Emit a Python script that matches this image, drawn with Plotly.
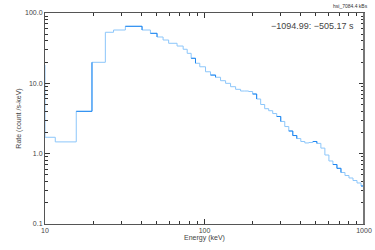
import plotly.graph_objects as go

# energy bin edges (keV) and count rates (counts / s-keV), one rate per bin
edges = [8.5, 10, 11.6, 15.7, 19.7, 23.9, 26.9, 31.9, 40.6, 45.8, 50.4, 55.0, 59.6,
         67.3, 73.5, 77.9, 82.5, 87.8, 93.4, 101.5, 109.1, 117.3, 126.1, 135.6, 145.7,
         156.7, 168.4, 178.5, 189.1, 200.4, 212.3, 225.0, 238.4, 252.6, 267.7, 283.7,
         300.6, 318.6, 337.6, 357.7, 379.0, 401.6, 425.6, 451.0, 477.9, 506.4, 536.6,
         568.6, 602.6, 638.5, 676.6, 717.0, 759.8, 805.1, 853.1, 903.9, 957.7, 1000]
rates = [18.2, 1.71, 1.47, 4.0, 19.9, 53.2, 57.3, 64.7, 57.3, 51.4, 45.6, 41.3,
         37.1, 33.9, 30.5, 26.7, 22.7, 19.3, 17.2, 14.6, 13.1, 12.2, 10.9, 10.0, 8.96, 8.22,
         7.78, 7.78, 7.65, 7.05, 5.99, 5.0, 4.36, 4.08, 3.72, 3.38, 2.87, 2.43, 2.10, 1.81,
         1.64, 1.49, 1.42, 1.44, 1.49, 1.40, 1.20, 0.957, 0.787, 0.701, 0.619, 0.540,
         0.489, 0.451, 0.415, 0.383, 0.347]

title_text = "hsi_7084.4 kBs"
time_text = "\u22121094.99: \u2212505.17 s"

# bins where the darker overplotted trace shows through
dark_bins = [3, 7, 9, 16, 20, 29, 35, 38, 39, 44, 49, 50, 56]

fig = go.Figure()

fig.add_trace(go.Scatter(x=edges, y=rates + [rates[-1]], mode="lines",
                         line=dict(color="#8cc6fa", width=1, shape="hv"),
                         showlegend=False, hoverinfo="skip"))

dx, dy = [], []
for i in dark_bins:
    nxt = rates[i + 1] if i + 1 < len(rates) else rates[i]
    dx += [edges[i], edges[i + 1], edges[i + 1], None]
    dy += [rates[i], rates[i], nxt, None]
fig.add_trace(go.Scatter(x=dx, y=dy, mode="lines",
                         line=dict(color="#1e86f0", width=1),
                         showlegend=False, hoverinfo="skip"))

axis_font = dict(family="Liberation Sans, Arial", size=7, color="#444")

fig.update_xaxes(type="log", range=[1, 3], automargin=False,
                 tickvals=[10, 100, 1000], ticktext=["10", "100", "1000"],
                 ticks="inside", ticklen=5, tickcolor="#333",
                 minor=dict(ticks="inside", ticklen=3, tickcolor="#333",
                            tickvals=[20, 30, 40, 50, 60, 70, 80, 90,
                                      200, 300, 400, 500, 600, 700, 800, 900]),
                 showline=True, linecolor="#555", linewidth=1, mirror="ticks",
                 showgrid=False, zeroline=False, tickfont=axis_font,
                 title=dict(text="Energy (keV)", font=axis_font, standoff=1))
fig.update_yaxes(type="log", range=[-1, 2], automargin=False,
                 tickvals=[0.1, 1, 10, 100], ticktext=["0.1", "1.0", "10.0", "100.0"],
                 ticks="inside", ticklen=5, tickcolor="#333",
                 minor=dict(ticks="inside", ticklen=3, tickcolor="#333",
                            tickvals=[0.2, 0.3, 0.4, 0.5, 0.6, 0.7, 0.8, 0.9,
                                      2, 3, 4, 5, 6, 7, 8, 9,
                                      20, 30, 40, 50, 60, 70, 80, 90]),
                 showline=True, linecolor="#555", linewidth=1, mirror="ticks",
                 showgrid=False, zeroline=False, tickfont=axis_font,
                 title=dict(text="Rate (count /s-keV)", font=axis_font, standoff=2))

# thicker right-hand frame line
fig.add_shape(type="line", xref="paper", yref="paper", x0=1, x1=1, y0=0, y1=1,
              line=dict(color="#777", width=2))

fig.add_annotation(text=title_text, xref="paper", yref="paper", x=1.02, y=1.01,
                   xanchor="right", yanchor="bottom", showarrow=False,
                   font=dict(family="Liberation Sans, Arial", size=5, color="#333"))
fig.add_annotation(text=time_text, xref="paper", yref="paper", x=0.975, y=0.97,
                   xanchor="right", yanchor="top", showarrow=False,
                   font=dict(family="Liberation Sans, Arial", size=9, color="#444"))

fig.update_layout(width=375, height=250, margin=dict(l=45, r=11, t=13, b=26),
                  plot_bgcolor="white", paper_bgcolor="white")

# drop the browser's default body margin so the figure sits at the window corner
fig.write_html("out.html", config={"displayModeBar": False},
               post_script="document.body.style.margin='0';")
